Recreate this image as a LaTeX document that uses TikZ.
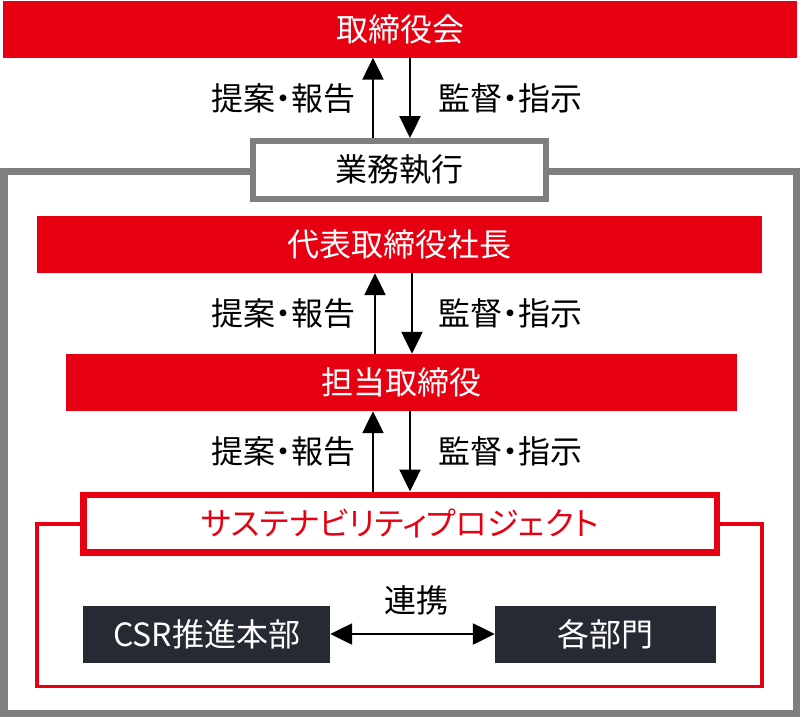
\documentclass[tikz,border=0pt]{standalone}
\usepackage{fontspec}
\setmainfont{Noto Sans CJK JP}[RawFeature={+palt}]
\usetikzlibrary{arrows.meta}
\definecolor{cred}{HTML}{E60012}
\definecolor{cgray}{HTML}{7F7F7F}
\definecolor{cdark}{HTML}{262A33}
\tikzset{
  redbox/.style={fill=cred, draw=none, text=white, minimum height=57pt, inner sep=0pt, font=\fontsize{32}{36}\selectfont},
  darkbox/.style={fill=cdark, draw=none, text=white, minimum height=57pt, inner sep=0pt, font=\fontsize{32}{36}\selectfont},
  lbl/.style={text=black, inner sep=0pt, font=\fontsize{32}{36}\selectfont},
  arr/.style={draw=black, line width=2.4pt, -{Triangle[length=22pt,width=21pt]}},
  darr/.style={draw=black, line width=2.4pt, {Triangle[length=22pt,width=21pt]}-{Triangle[length=22pt,width=21pt]}}
}
\begin{document}
\begin{tikzpicture}[x=1pt,y=-1pt]
\useasboundingbox (0,0) rectangle (800,718);
% outer gray frame
\draw[cgray, line width=7pt] (4,171.5) rectangle (796,713.5);
% top
\node[redbox, minimum width=794pt] (board) at (400,29) {取締役会};
\node[draw=cgray, line width=6pt, fill=white, minimum width=293pt, minimum height=58pt, inner sep=0pt, font=\fontsize{32}{36}\selectfont] (exec) at (399.5,170) {業務執行};
\node[redbox, minimum width=725pt] (pres) at (399.5,244.5) {代表取締役社長};
\node[redbox, minimum width=671pt] (dir) at (401.5,382.5) {担当取締役};
% red project frame
\draw[cred, line width=3.5pt] (37,524) rectangle (762,686.5);
\node[draw=cred, line width=6.5pt, fill=white, text=cred, minimum width=633.5pt, minimum height=57.5pt, inner sep=0pt, font=\fontsize{32}{36}\selectfont] (proj) at (400,523.5) {サステナビリティプロジェクト};
\node[darkbox, minimum width=247pt] (csr) at (206.5,634) {CSR推進本部};
\node[darkbox, minimum width=221pt] (dept) at (605.5,634) {各部門};
% arrow x positions
\coordinate (u1) at (373,0);
\coordinate (d1) at (410,0);
\coordinate (u2) at (375,0);
\coordinate (d2) at (412,0);
\coordinate (u3) at (373,0);
\coordinate (d3) at (410,0);
\draw[arr] (exec.north -| u1) -- (board.south -| u1);
\draw[arr] (board.south -| d1) -- (exec.north -| d1);
\draw[arr] (dir.north -| u2) -- (pres.south -| u2);
\draw[arr] (pres.south -| d2) -- (dir.north -| d2);
\draw[arr] (proj.north -| u3) -- (dir.south -| u3);
\draw[arr] (dir.south -| d3) -- (proj.north -| d3);
\draw[darr] (csr.east) -- (dept.west);
% labels
\node[lbl, anchor=east] (l1) at (356,98) {提案・報告};
\node[lbl, anchor=west] (r1) at (438,98) {監督・指示};
\node[lbl, anchor=east] (l2) at (356,313) {提案・報告};
\node[lbl, anchor=west] (r2) at (438,313) {監督・指示};
\node[lbl, anchor=east] (l3) at (356,451) {提案・報告};
\node[lbl, anchor=west] (r3) at (438,451) {監督・指示};
\node[lbl] (link) at (416,600) {連携};
\end{tikzpicture}
\end{document}
